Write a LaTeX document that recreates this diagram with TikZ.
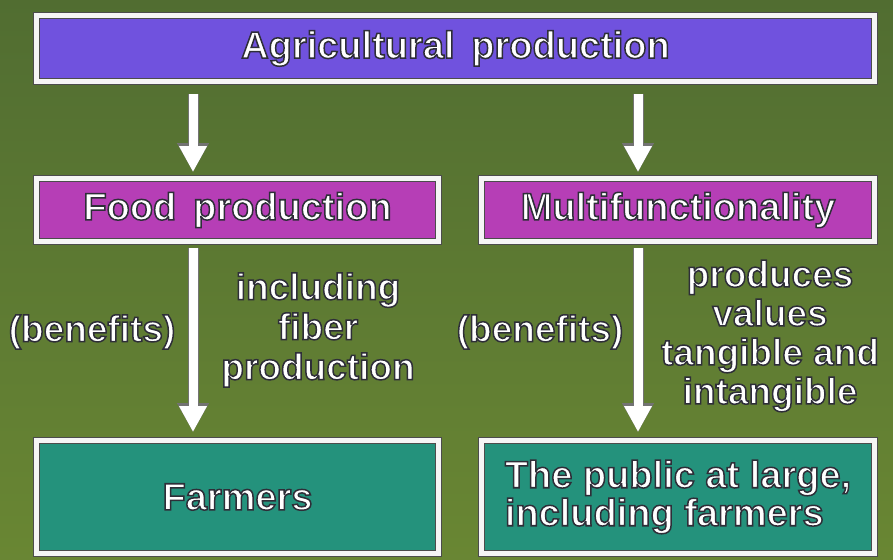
\documentclass[tikz,border=0pt]{standalone}
\usepackage{fontspec}
\setmainfont{Liberation Sans}
\usetikzlibrary{arrows.meta}
% white letters with a dark stroke round them
\newcommand{\outl}[1]{\special{pdf:literal direct 2 Tr 0.18 0.18 0.22 RG 1.5 w}#1\special{pdf:literal direct 0 Tr}}
\definecolor{grass}{RGB}{92,124,56}
\definecolor{agripurple}{RGB}{112,82,222}
\definecolor{foodpink}{RGB}{182,62,182}
\definecolor{sharegreen}{RGB}{36,146,124}
\tikzset{
  panel/.style={draw=black!70, line width=0.8pt, double=white!92!gray, double distance=5pt,
    inner sep=2pt, text=white, font=\bfseries\fontsize{38}{40}\selectfont},
  tag/.style={text=white, align=center, font=\bfseries\fontsize{37}{40}\selectfont},
  flow/.style={white, line width=9pt, -{Triangle[width=26pt,length=26pt]},
    preaction={draw=black!55, line width=11pt, -{Triangle[width=30pt,length=29pt]}}}
}

\begin{document}
\begin{tikzpicture}[x=1pt,y=-1pt]
	% background
	\useasboundingbox (0,0) rectangle (893,559);
	\shade[top color=grass!88!black, bottom color=grass!92!yellow] (0,0) rectangle (893,559);
	% boxes
	\node[panel, fill=agripurple, minimum width=838pt, minimum height=66pt] (agri) at (455.5,48.5) {\outl{Agricultural\, production}};
	\node[panel, fill=foodpink, minimum width=402pt, minimum height=63pt] (food) at (237.5,210) {\outl{Food\, production}};
	\node[panel, fill=foodpink, minimum width=393pt, minimum height=63pt] (multi) at (678,210) {\outl{Multifunctionality}};
	\node[panel, fill=sharegreen, minimum width=402pt, minimum height=113pt] (farmers) at (237.5,497) {\outl{Farmers}};
	\node[panel, fill=sharegreen, minimum width=393pt, minimum height=113pt, align=left,
		font=\bfseries\fontsize{38}{38}\selectfont] (public) at (678,497)
		{\outl{The public at large,}\\\outl{including farmers}};
	% arrow columns
	\coordinate (lcol) at (193,0);
	\coordinate (rcol) at (638,0);
	\draw[flow, shorten <=12pt, shorten >=6pt] (agri.south -| lcol) -- (food.north -| lcol);
	\draw[flow, shorten <=12pt, shorten >=6pt] (agri.south -| rcol) -- (multi.north -| rcol);
	\draw[flow, shorten <=6pt, shorten >=8pt] (food.south -| lcol) -- (farmers.north -| lcol);
	\draw[flow, shorten <=6pt, shorten >=8pt] (multi.south -| rcol) -- (public.north -| rcol);
	% side texts
	\node[tag] (benleft) at (92,332) {\outl{(benefits)}};
	\node[tag] (fiber) at (318,330) {\outl{including}\\\outl{fiber}\\\outl{production}};
	\node[tag] (benright) at (540,332) {\outl{(benefits)}};
	\node[tag, font=\bfseries\fontsize{37}{39}\selectfont] (values) at (770,336)
		{\outl{produces}\\\outl{values}\\\outl{tangible and}\\\outl{intangible}};
\end{tikzpicture}
\end{document}
